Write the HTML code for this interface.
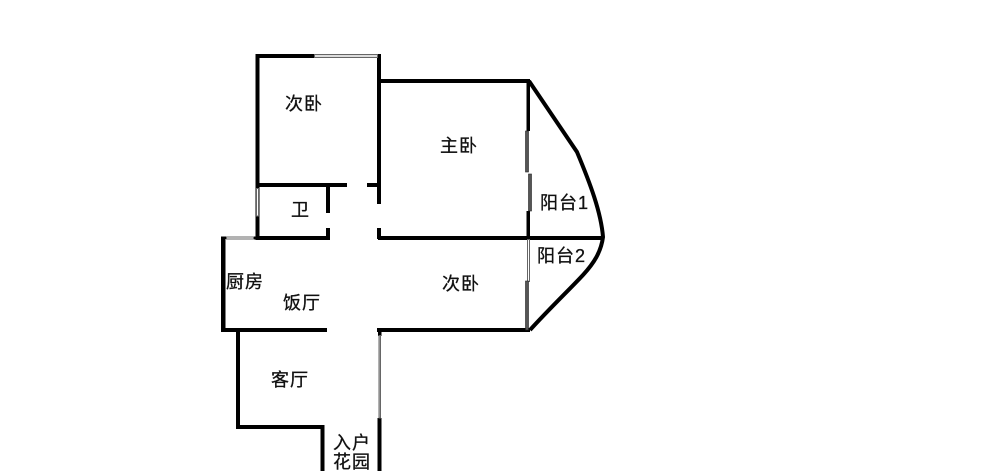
<!DOCTYPE html>
<html><head><meta charset="utf-8"><style>
html,body{margin:0;padding:0;background:#fff;width:1000px;height:475px;overflow:hidden}
svg{display:block}
text{font-family:"Liberation Sans","WenQuanYi Zen Hei","Noto Sans CJK SC",sans-serif;font-size:18px;letter-spacing:1px;fill:#111;stroke:#111;stroke-width:.3}
</style></head><body>
<svg width="1000" height="475" viewBox="0 0 1000 475" xmlns="http://www.w3.org/2000/svg">
<rect width="1000" height="475" fill="#fff"/>
<g fill="#000">
<rect x="255.5" y="54" width="4" height="185"/>
<rect x="255.5" y="54" width="59" height="4"/>
<rect x="377" y="54" width="4" height="131"/>
<rect x="259" y="183" width="88" height="4"/>
<rect x="367" y="183" width="14" height="4"/>
<rect x="377" y="185" width="4" height="19"/>
<rect x="377" y="228" width="4" height="11"/>
<rect x="326" y="187" width="4" height="26"/>
<rect x="326" y="228" width="4" height="11"/>
<rect x="255.5" y="236" width="74.5" height="4"/>
<rect x="381" y="79" width="149" height="4"/>
<rect x="526.5" y="80" width="3.5" height="51"/>
<rect x="526.5" y="211" width="3.5" height="28"/>
<rect x="378" y="236" width="226" height="4"/>
<rect x="221" y="237" width="4.5" height="95"/>
<rect x="221" y="236.5" width="6" height="2.5"/>
<rect x="253" y="236.5" width="3" height="3"/>
<rect x="221" y="328" width="106" height="4"/>
<rect x="236" y="331" width="4" height="98"/>
<rect x="236" y="425" width="88.5" height="4"/>
<rect x="320.5" y="425" width="4" height="46"/>
<rect x="377" y="328" width="153" height="4"/>
<rect x="378" y="331" width="3.5" height="5"/>
<rect x="377.5" y="418" width="4" height="53"/>
</g>
<!-- windows -->
<g fill="#fff" stroke="#666" stroke-width="1">
<rect x="314.5" y="54.5" width="63" height="3" fill="#ddd"/>
<rect x="256.5" y="188.5" width="2" height="27.5"/>
<rect x="226.5" y="237" width="27" height="2"/>
<rect x="379" y="335.5" width="1.5" height="82.5" fill="#bbb"/>
<rect x="527.5" y="239.5" width="2" height="42"/>
</g>
<g fill="#555" stroke="#222" stroke-width="0.6">
<rect x="525.5" y="131" width="3" height="41"/>
<rect x="528.5" y="174" width="3" height="37"/>
<rect x="525.5" y="281" width="3" height="49"/>
</g>
<!-- balcony curve -->
<path d="M529 81 L577 152 C590 183 601 212 603 237 C601 252 594 263 583 275 C570 289 550 308 530 330" fill="none" stroke="#000" stroke-width="4"/>
<!-- labels -->
<text x="285" y="110">次卧</text>
<text x="440" y="152">主卧</text>
<text x="291" y="216">卫</text>
<text x="540" y="209">阳台1</text>
<text x="537" y="262">阳台2</text>
<text x="442" y="290">次卧</text>
<text x="226" y="288">厨房</text>
<text x="283" y="309">饭厅</text>
<text x="271" y="386">客厅</text>
<text x="333" y="449">入户</text>
<text x="333" y="468">花园</text>
</svg>
</body></html>
